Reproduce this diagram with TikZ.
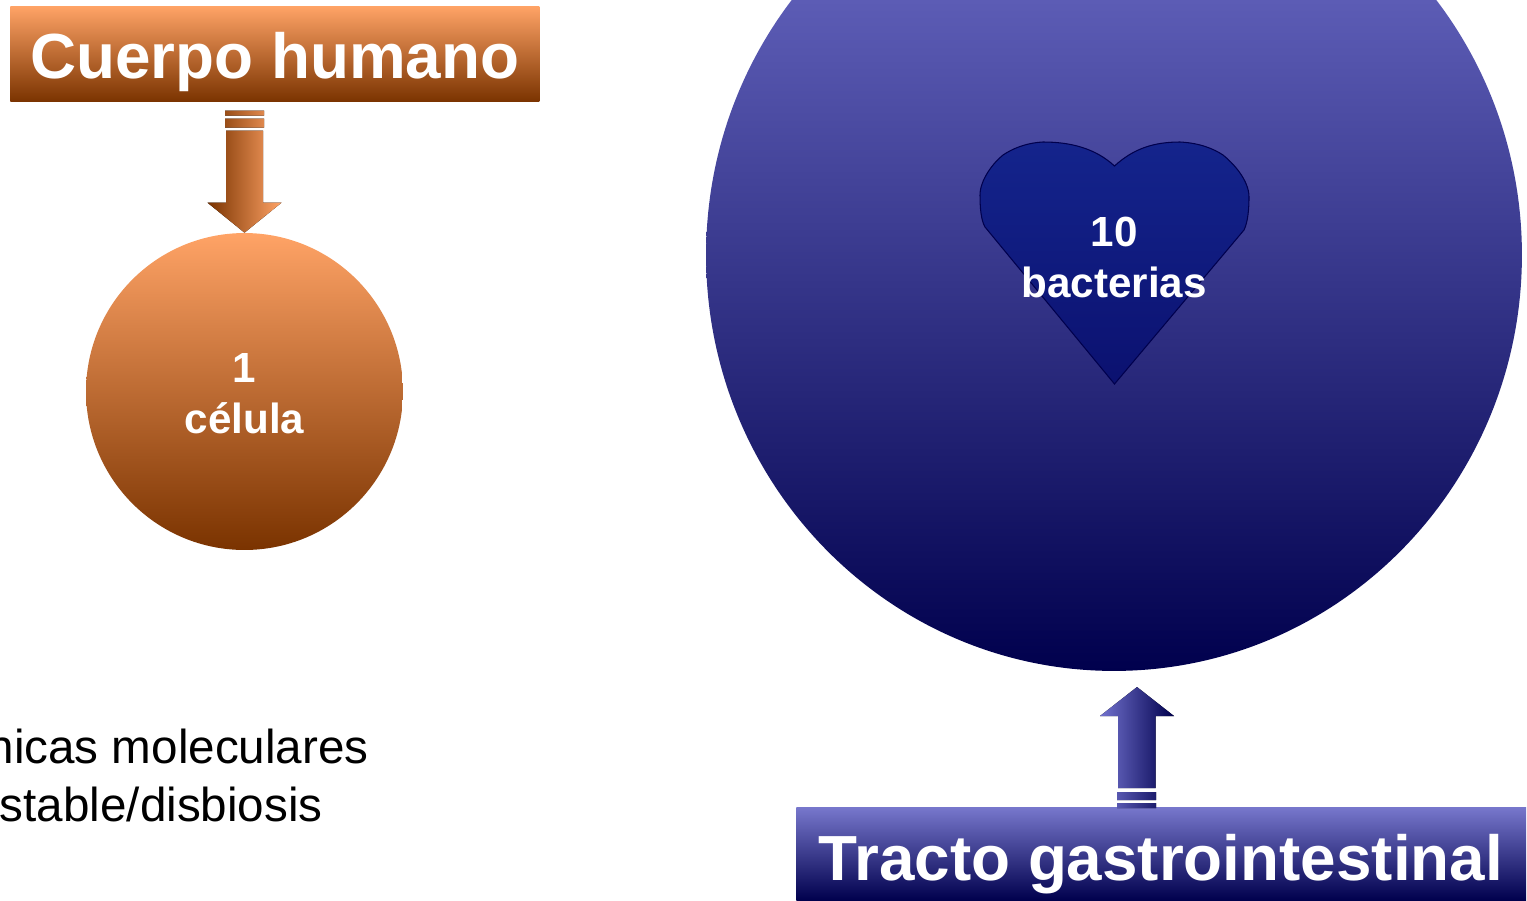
\documentclass[tikz,border=0pt]{standalone}
\usepackage{fontspec}
\usetikzlibrary{shapes.geometric}
\setmainfont{Liberation Sans}
\definecolor{orTop}{HTML}{FFA366}
\definecolor{orBot}{HTML}{7A3300}
\definecolor{blTop}{HTML}{7272CE}
\definecolor{blBot}{HTML}{00004D}
\definecolor{arTop}{HTML}{7777CC}
\definecolor{heartTop}{HTML}{14248C}
\definecolor{heartBot}{HTML}{0B1170}
\tikzset{
  orangefill/.style={top color=orTop,bottom color=orBot},
  bluefill/.style={top color=blTop,bottom color=blBot},
  banner/.style={inner sep=0pt,anchor=north west},
  bannertext/.style={inner sep=0pt,font=\bfseries\fontsize{36.3}{40}\selectfont,text=white,yshift=-4.7pt},
  ball/.style={ellipse,inner sep=0pt,draw=none},
  countlabel/.style={font=\bfseries\fontsize{24}{29.3}\selectfont,text=white,align=center},
  bodytext/.style={font=\fontsize{27.1}{33}\selectfont,text=black,anchor=east,inner sep=0pt}
}
\begin{document}
\begin{tikzpicture}[x=0.02cm,y=-0.02cm]
\clip (0,0) rectangle (1527,900);
% banners
\node[banner,orangefill,minimum width=10.58cm,minimum height=1.91cm,
  label={[bannertext]center:Cuerpo humano}] (cuerpo) at (10,6) {};
\node[banner,top color=arTop,bottom color=blBot,minimum width=14.6cm,minimum height=1.86cm,
  label={[bannertext,xshift=-0.2pt,yshift=-0.9pt]center:Tracto gastrointestinal}] (tracto) at (796,807) {};
% circles
\node[ball,orangefill,minimum width=6.34cm,minimum height=6.34cm] (cell) at (244.5,391.5) {};
\node[ball,bluefill,minimum width=16.32cm,minimum height=16.64cm] (big) at (1114,255) {};
% heart
\draw[draw=blBot,line width=0.6pt,top color=heartTop,bottom color=heartBot]
  (1114.5,166) .. controls (1095,148) and (1070,142) .. (1043,142)
  .. controls (1025,143) and (1012,149) .. (1003,155)
  .. controls (993,163) and (980,180) .. (980,195)
  .. controls (980,208) and (981,220) .. (985,227)
  -- (1114.5,384) -- (1244,230)
  .. controls (1248,222) and (1249,208) .. (1249,197)
  .. controls (1249,180) and (1233,163) .. (1223,155)
  .. controls (1214,149) and (1200,143) .. (1180,142)
  .. controls (1155,142) and (1134,148) .. (1114.5,166) -- cycle;
% labels
\node[countlabel] (celltext) at (244.5,393.9) {1\\célula};
\node[countlabel] (bactext) at (1114.3,257.3) {10\\bacterias};
% arrows
\begin{scope}[shift={(cell.north)}]
\fill[left color=orBot,right color=orTop]
  (0,0) -- (-37,-30) -- (-18.5,-30) -- (-18.5,-102) -- (18.5,-102) -- (18.5,-30) -- (37,-30) -- cycle
  (-19.5,-105) rectangle (19.5,-114)
  (-19.5,-117) rectangle (19.5,-122);
\end{scope}
\begin{scope}[shift={(tracto.north west)}]
\fill[left color=blTop,right color=blBot]
  (341,-120) -- (304,-91) -- (322,-91) -- (322,-19) -- (359.5,-19) -- (359.5,-91) -- (378,-91) -- cycle
  (321,-15) rectangle (360,-7)
  (321,-4) rectangle (360,1);
\end{scope}
% text cut off by the picture's left edge, as in the reference
\node[bodytext] (line1) at (369,746) {nicas moleculares};
\node[bodytext] (line2) at (323,804) {stable/disbiosis};
\end{tikzpicture}
\end{document}
